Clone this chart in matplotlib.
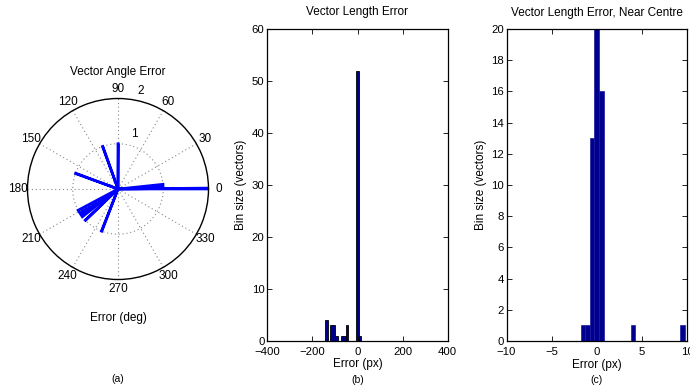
import numpy as np
import matplotlib
matplotlib.use("Agg")
import matplotlib.pyplot as plt

plt.rcParams['font.family'] = ['Liberation Sans', 'DejaVu Sans']
plt.rcParams['font.size'] = 8

# ---- (a) angle error rose: bin edges (deg) and counts ----
rose_start = [0.0, 0.6, 89.5, 109.5, 159.5, 208.0, 223.5, 248.5]
rose_end = [0.6, 6.0, 90.1, 110.1, 160.1, 218.0, 224.1, 249.1]
rose_count = [2, 1, 1, 1, 1, 1, 1, 1]
rose_rmax = 2
angle_labels = [0, 30, 60, 90, 120, 150, 180, 210, 240, 270, 300, 330]
ring_labels = [1, 2]

# ---- (b) length error histogram ----
len_centers = [-137.8, -115.0, -103.6, -92.2, -69.4, -58.0, -46.6, -1.0, 10.4]
len_counts = [4, 3, 3, 1, 1, 1, 3, 52, 1]
len_width = 11.4
len_xticks = [-400, -200, 0, 200, 400]
len_yticks = [0, 10, 20, 30, 40, 50, 60]

# ---- (c) length error near centre ----
near_centers = [-1.5, -1.0, -0.5, 0.0, 0.5, 4.0, 9.5]
near_counts = [1, 1, 13, 20, 16, 1, 1]
near_width = 0.5
near_xticks = [-10, -5, 0, 5, 10]
near_yticks = [0, 2, 4, 6, 8, 10, 12, 14, 16, 18, 20]

W, H = 690, 385
fig = plt.figure(figsize=(W / 100, H / 100), dpi=100)


def frac(x0, y0, x1, y1):
    return [x0 / W, 1 - y1 / H, (x1 - x0) / W, (y1 - y0) / H]


bar_face = '#00008F'

# ---------------- (a) polar rose ----------------
cx, cy, R = 118, 189, 90.5
axp = fig.add_axes(frac(cx - R, cy - R, cx + R, cy + R), projection='polar')
axp.set_ylim(0, rose_rmax)
axp.set_xticks([])
axp.set_yticks([])
axp.grid(False)
axp.spines['polar'].set_linewidth(1.0)
axp.spines['polar'].set_color('black')

grid_kw = dict(color='#888888', linestyle=(0, (1, 2.5)), linewidth=0.8)
for a in range(0, 360, 30):
    t = np.deg2rad(a)
    axp.plot([t, t], [0, rose_rmax], **grid_kw)
tt = np.linspace(0, 2 * np.pi, 361)
axp.plot(tt, np.full_like(tt, 1.0), **grid_kw)

for a0, a1, c in zip(rose_start, rose_end, rose_count):
    th = np.deg2rad([a0, a0, a1, a1, a0])
    rr = [0, c, c, 0, 0]
    axp.fill(th, rr, color='blue', lw=0)
    axp.plot(th, rr, color='blue', lw=1.9, solid_joinstyle='miter')

for a in angle_labels:
    axp.text(np.deg2rad(a), 2.22, str(a), ha='center', va='center',
             fontsize=8.5, clip_on=False)
axp.text(np.deg2rad(73), 1.26, str(ring_labels[0]), ha='center', va='center',
         fontsize=8.5)
axp.text(np.deg2rad(77), 2.22, str(ring_labels[1]), ha='center', va='center',
         fontsize=8.5, clip_on=False)

fig.text(118 / W, 1 - 72 / H, 'Vector Angle Error', ha='center', va='center', fontsize=8.5)
fig.text(118 / W, 1 - 318 / H, 'Error (deg)', ha='center', va='center', fontsize=8.5)
fig.text(118 / W, 1 - 379 / H, '(a)', ha='center', va='center', fontsize=7.5)


def style_axes(ax):
    ax.tick_params(direction='in', top=True, right=True, length=3.5,
                   width=0.6, labelsize=8.2, pad=2)
    ax.tick_params(axis='x', pad=4.5)
    for s in ax.spines.values():
        s.set_linewidth(0.9)


# ---------------- (b) histogram ----------------
axb = fig.add_axes(frac(267.3, 29, 447.7, 340.7))
axb.bar(len_centers, len_counts, width=len_width, color=bar_face,
        edgecolor='black', linewidth=0.6)
axb.set_xlim(-400, 400)
axb.set_ylim(0, 60)
axb.set_xticks(len_xticks)
axb.set_yticks(len_yticks)
style_axes(axb)
fig.text(357.5 / W, 1 - 12 / H, 'Vector Length Error', ha='center', va='center', fontsize=8.5)
fig.text(357.5 / W, 1 - 364 / H, 'Error (px)', ha='center', va='center', fontsize=8.5)
fig.text(357.5 / W, 1 - 380 / H, '(b)', ha='center', va='center', fontsize=7.5)
fig.text(241 / W, 1 - 185 / H, 'Bin size (vectors)', ha='center', va='center',
         rotation=90, fontsize=8.5)

# ---------------- (c) histogram near centre ----------------
axc = fig.add_axes(frac(506.5, 29, 687, 341))
axc.bar(near_centers, near_counts, width=near_width, color=bar_face,
        edgecolor='#1a1aa0', linewidth=0.5)
axc.set_xlim(-10, 10)
axc.set_ylim(0, 20)
axc.set_xticks(near_xticks)
axc.set_yticks(near_yticks)
style_axes(axc)
fig.text(596.7 / W, 1 - 13 / H, 'Vector Length Error, Near Centre', ha='center',
         va='center', fontsize=8.5)
fig.text(596.7 / W, 1 - 365 / H, 'Error (px)', ha='center', va='center', fontsize=8.5)
fig.text(596.7 / W, 1 - 380 / H, '(c)', ha='center', va='center', fontsize=7.5)
fig.text(481 / W, 1 - 185 / H, 'Bin size (vectors)', ha='center', va='center',
         rotation=90, fontsize=8.5)

fig.savefig('out.png', dpi=100, facecolor='white')
